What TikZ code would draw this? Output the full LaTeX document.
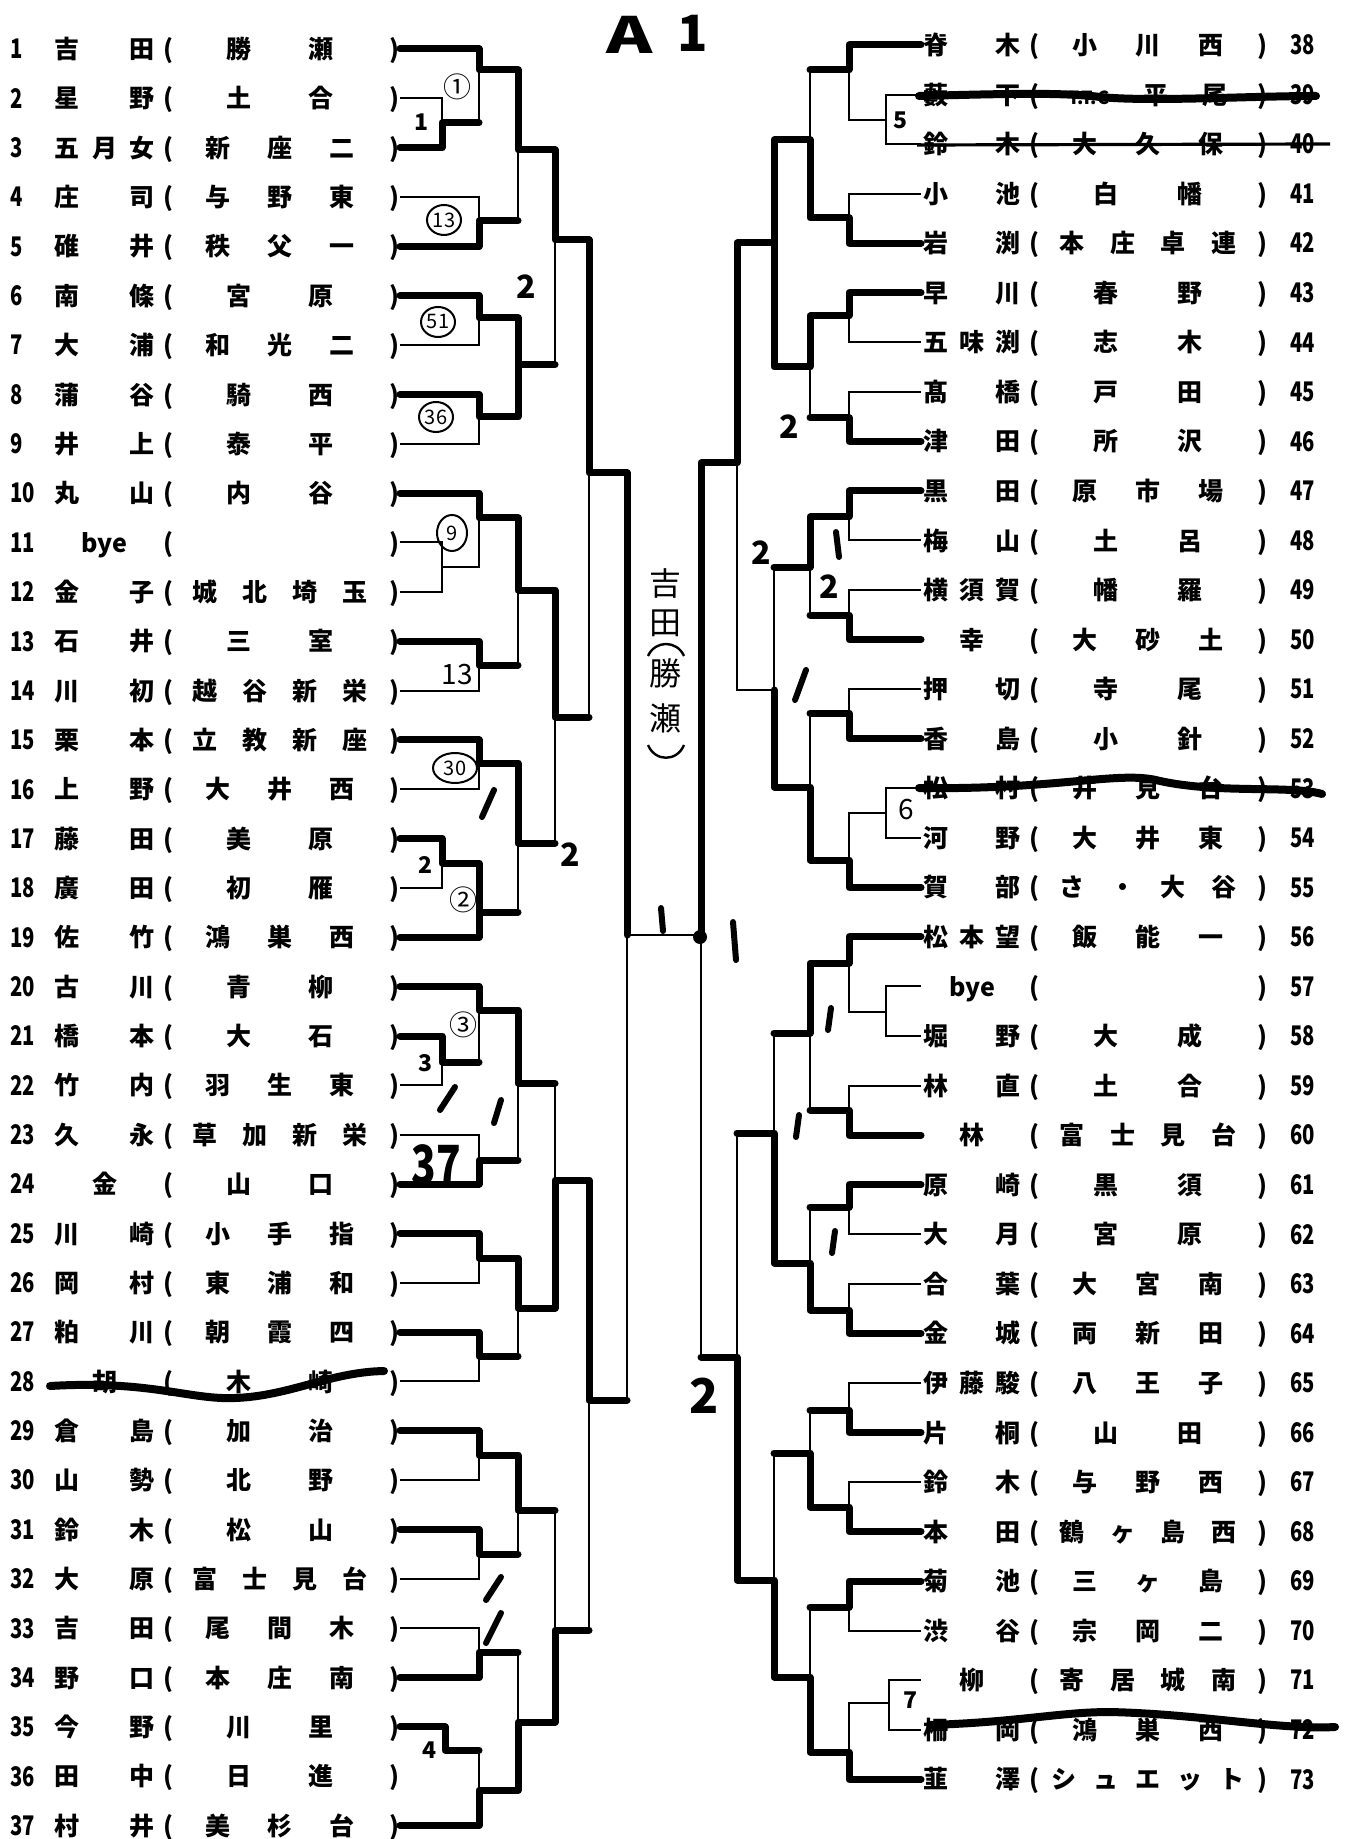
\documentclass[tikz,border=0pt]{standalone}
\usepackage{fontspec}
\usepackage{graphicx}
\setmainfont{Noto Sans CJK JP}
\newfontfamily\numf{Noto Sans CJK JP}[FakeStretch=0.75]
\usetikzlibrary{shapes.geometric}

% spread characters evenly in a box / justify a name
\def\spreadA#1#2{#1\hfil\ifx\relax#2\else\expandafter\spreadA\expandafter#2\fi}
\def\spreadB#1#2{#1\ifx\relax#2\else\hfil\expandafter\spreadB\expandafter#2\fi}
\newcommand\spreadall[1]{\hfil\expandafter\spreadA#1\relax}
\newcommand\spreadin[1]{\expandafter\spreadB#1\relax}
\newcommand\byetext{bye}
\newcommand\ttc{{\fontsize{9pt}{9pt}\selectfont T.T.C}}

\begin{document}
\begin{tikzpicture}[x=0.5pt,y=-0.5pt,
  rule/.style={line width=1pt},
  win/.style={line width=3.5pt,line cap=round,line join=round},
  strike/.style={line width=4pt,line cap=round},
  ent/.style={font=\bfseries\fontsize{12.5pt}{14pt}\selectfont,anchor=base,yshift=-4.8pt,inner sep=0pt},
  num/.style={font=\numf\bfseries\fontsize{13.5pt}{14pt}\selectfont,anchor=base west,yshift=-4.9pt,inner sep=0pt},
  prt/.style={font=\bfseries\fontsize{11.5pt}{12pt}\selectfont,inner sep=0pt},
  circ/.style={font=\fontsize{14pt}{14pt}\selectfont,inner sep=0pt},
  oval/.style={draw,ellipse,line width=1pt,inner sep=0pt,minimum width=17pt,minimum height=15pt,
    font=\fontsize{10pt}{10pt}\selectfont},
  hand/.style={font=\bfseries\fontsize{16pt}{16pt}\selectfont,inner sep=0pt},
  nick/.style={line width=3pt,line cap=round}]
\useasboundingbox (0,0) rectangle (1349,1839);

% title
\node[font=\bfseries\fontsize{25pt}{25pt}\selectfont] (ttlA) at (630,35) {\scalebox{1.4}[1]{A}};
\node[font=\bfseries\fontsize{25pt}{25pt}\selectfont] (ttl1) at (693,33) {1};

% left entries
\foreach \n/\nm/\sc [evaluate=\n as \yy using 49+(\n-1)*49.35] in {
  1/吉田/勝瀬, 2/星野/土合, 3/五月女/新座二, 4/庄司/与野東, 5/碓井/秩父一,
  6/南條/宮原, 7/大浦/和光二, 8/蒲谷/騎西, 9/井上/泰平, 10/丸山/内谷,
  11/{\hfil\byetext\hfil}/{\hfil}, 12/金子/城北埼玉, 13/石井/三室, 14/川初/越谷新栄,
  15/栗本/立教新座, 16/上野/大井西, 17/藤田/美原, 18/廣田/初雁, 19/佐竹/鴻巣西,
  20/古川/青柳, 21/橋本/大石, 22/竹内/羽生東, 23/久永/草加新栄, 24/{\hfil 金\hfil}/山口,
  25/川崎/小手指, 26/岡村/東浦和, 27/粕川/朝霞四, 28/{\hfil 胡\hfil}/木崎, 29/倉島/加治,
  30/山勢/北野, 31/鈴木/松山, 32/大原/富士見台, 33/吉田/尾間木, 34/野口/本庄南,
  35/今野/川里, 36/田中/日進, 37/村井/美杉台} {
  \node[num] (numL\n) at (10,\yy) {\n};
  \node[ent] (nmL\n) at (104.5,\yy) {\hbox to 50pt{\spreadin{\nm}}};
  \node[ent] (opL\n) at (168,\yy) {(};
  \node[ent] (scL\n) at (280,\yy) {\hbox to 112pt{\spreadall{\sc}}};
  \node[ent] (clL\n) at (394,\yy) {)};
  \coordinate (L\n) at (400,\yy);
}

% right entries
\foreach \n/\nm/\sc [evaluate=\n as \yy using 45+(\n-38)*49.55] in {
  38/脊木/小川西, 39/藪下/\ttc 平尾, 40/鈴木/大久保, 41/小池/白幡, 42/岩渕/本庄卓連,
  43/早川/春野, 44/五味渕/志木, 45/髙橋/戸田, 46/津田/所沢, 47/黒田/原市場,
  48/梅山/土呂, 49/横須賀/幡羅, 50/{\hfil 幸\hfil}/大砂土, 51/押切/寺尾, 52/香島/小針,
  53/松村/井見台, 54/河野/大井東, 55/賀部/さ・大谷, 56/松本望/飯能一, 57/{\hfil\byetext\hfil}/{\hfil},
  58/堀野/大成, 59/林直/土合, 60/{\hfil 林\hfil}/富士見台, 61/原崎/黒須, 62/大月/宮原,
  63/合葉/大宮南, 64/金城/両新田, 65/伊藤駿/八王子, 66/片桐/山田, 67/鈴木/与野西,
  68/本田/鶴ヶ島西, 69/菊池/三ヶ島, 70/渋谷/宗岡二, 71/{\hfil 柳\hfil}/寄居城南, 72/柵岡/鴻巣西,
  73/韮澤/シュエット} {
  \node[ent] (nmR\n) at (972,\yy) {\hbox to 48.5pt{\spreadin{\nm}}};
  \node[ent] (opR\n) at (1034,\yy) {(};
  \node[ent] (scR\n) at (1148,\yy) {\hbox to 114pt{\spreadall{\sc}}};
  \node[ent] (clR\n) at (1262,\yy) {)};
  \node[num] (numR\n) at (1290,\yy) {\n};
  \coordinate (R\n) at (921,\yy);
}

% match points
\foreach \m/\x/\y in {lp1/442/123, la1/479/70, la2/479/221, lb1/518/150, la3/479/318,
  la4/479/417, lb2/518/365, lc1/555/240, lp2/442/567, la5/479/518, la6/479/665,
  lb3/518/590, la7/479/763, lp3/442/863, la8/479/912, lb4/518/843, lc2/555/717,
  ld1/589/473, lp4/442/1062, la9/479/1010, la10/479/1160, lb5/518/1083, la11/479/1258,
  la12/479/1356, lb6/518/1308, lc3/555/1180, la13/479/1455, la14/479/1554, lb7/518/1510,
  la15/479/1652, lp5/445/1750, la16/479/1790, lb8/518/1722, lc4/555/1630, ld2/589/1400,
  lfin/627/935,
  rp1/886/120, ra1/849/70, ra2/849/218, rb1/810/140, ra3/849/316, ra4/849/418,
  rb2/810/367, rc1/774/243, ra5/849/517, ra6/849/615, rb3/810/567, ra7/849/713,
  rp2/886/813, ra8/849/860, rb4/810/787, rc2/774/690, rd1/737/463, rp3/886/1012,
  ra9/849/963, ra10/849/1110, rb5/810/1033, ra11/849/1207, ra12/849/1310, rb6/810/1263,
  rc3/774/1133, ra13/849/1410, ra14/849/1507, rb7/810/1453, ra15/849/1607, rp4/889/1703,
  ra16/849/1752, rb8/810/1677, rc4/774/1580, rd2/737/1357, rfin/701/935}
  \coordinate (\m) at (\x,\y);

% printed bracket
\foreach \a/\m/\b in {L2/lp1/L3, L1/la1/lp1, L4/la2/L5, la1/lb1/la2, L6/la3/L7, L8/la4/L9,
  la3/lb2/la4, lb1/lc1/lb2, L11/lp2/L12, L10/la5/lp2, L13/la6/L14, la5/lb3/la6,
  L15/la7/L16, L17/lp3/L18, lp3/la8/L19, la7/lb4/la8, lb3/lc2/lb4, lc1/ld1/lc2,
  L21/lp4/L22, L20/la9/lp4, L23/la10/L24, la9/lb5/la10, L25/la11/L26, L27/la12/L28,
  la11/lb6/la12, lb5/lc3/lb6, L29/la13/L30, L31/la14/L32, la13/lb7/la14, L33/la15/L34,
  lp5/la16/L37, la15/lb8/la16, lb7/lc4/lb8, lc3/ld2/lc4, ld1/lfin/ld2,
  R39/rp1/R40, R38/ra1/rp1, R41/ra2/R42, ra1/rb1/ra2, R43/ra3/R44, R45/ra4/R46,
  ra3/rb2/ra4, rb1/rc1/rb2, R47/ra5/R48, R49/ra6/R50, ra5/rb3/ra6, R51/ra7/R52,
  R53/rp2/R54, rp2/ra8/R55, ra7/rb4/ra8, rb3/rc2/rb4, rc1/rd1/rc2, R57/rp3/R58,
  R56/ra9/rp3, R59/ra10/R60, ra9/rb5/ra10, R61/ra11/R62, R63/ra12/R64, ra11/rb6/ra12,
  rb5/rc3/rb6, R65/ra13/R66, R67/ra14/R68, ra13/rb7/ra14, R69/ra15/R70, R71/rp4/R72,
  rp4/ra16/R73, ra15/rb8/ra16, rb7/rc4/rb8, rc3/rd2/rc4, rd1/rfin/rd2}
  \draw[rule] (\a) -| (\m) |- (\b);
\draw[rule] (L35) -| (lp5);
\draw[rule] (lfin) -- (rfin);

% winners
\draw[win] (L1) -| (la1) -| (lb1) -| (lc1) -| (ld1) -| (lfin);
\draw[win] (L3) -| (lp1) -- (lp1 -| la1);
\draw[win] (L5) -| (la2) -- (la2 -| lb1);
\draw[win] (L6) -| (la3) -| (lb2) -- (lb2 -| lc1);
\draw[win] (L8) -| (la4) -| (lb2);
\draw[win] (L10) -| (la5) -| (lb3) -| (lc2) -- (lc2 -| ld1);
\draw[win] (L13) -| (la6) -- (la6 -| lb3);
\draw[win] (L15) -| (la7) -| (lb4) -- (lb4 -| lc2);
\draw[win] (L17) -| (lp3) -| (la8) -- (la8 -| lb4);
\draw[win] (L19) -| (la8);
\draw[win] (L20) -| (la9) -| (lb5) -- (lb5 -| lc3);
\draw[win] (L21) -| (lp4) -- (lp4 -| la9);
\draw[win] (L24) -| (la10) -- (la10 -| lb5);
\draw[win] (L25) -| (la11) -| (lb6) -| (lc3) -| (ld2) -- (ld2 -| lfin);
\draw[win] (L27) -| (la12) -- (la12 -| lb6);
\draw[win] (L29) -| (la13) -| (lb7) -- (lb7 -| lc4);
\draw[win] (L31) -| (la14) -- (la14 -| lb7);
\draw[win] (L34) -| (la15) -- (la15 -| lb8);
\draw[win] (L35) -| (lp5) -- (lp5 -| la16);
\draw[win] (L37) -| (la16) -| (lb8) -| (lc4) -- (lc4 -| ld2);
\draw[win] (R38) -| (ra1) -- (ra1 -| rb1);
\draw[win] (R42) -| (ra2) -| (rb1) -| (rc1) -| (rd1) -| (rfin);
\draw[win] (R43) -| (ra3) -| (rb2) -| (rc1);
\draw[win] (R46) -| (ra4) -- (ra4 -| rb2);
\draw[win] (R47) -| (ra5) -| (rb3) -- (rb3 -| rc2);
\draw[win] (R50) -| (ra6) -- (ra6 -| rb3);
\draw[win] (R52) -| (ra7) -- (ra7 -| rb4);
\draw[win] (R55) -| (ra8) -| (rb4) -| (rc2);
\draw[win] (R56) -| (ra9) -| (rb5) -- (rb5 -| rc3);
\draw[win] (R60) -| (ra10) -- (ra10 -| rb5);
\draw[win] (R61) -| (ra11) -- (ra11 -| rb6);
\draw[win] (R64) -| (ra12) -| (rb6) -| (rc3) -- (rc3 -| rd2);
\draw[win] (R66) -| (ra13) -- (ra13 -| rb7);
\draw[win] (R68) -| (ra14) -| (rb7) -- (rb7 -| rc4);
\draw[win] (R69) -| (ra15) -- (ra15 -| rb8);
\draw[win] (R73) -| (ra16) -| (rb8) -| (rc4) -| (rd2) -- (rd2 -| rfin);

% struck-out entries
\draw[strike] (50,1386) .. controls (150,1380) and (190,1400) .. (235,1398) .. controls (290,1396) and (330,1372) .. (384,1371);
\draw[strike] (919,96) .. controls (1000,94) and (1060,92) .. (1100,97) .. controls (1150,102) and (1250,96) .. (1316,96);
\draw[line width=1.6pt] (917,145) -- (1330,144);
\draw[strike] (919,788) .. controls (1060,790) and (1120,770) .. (1160,781) .. controls (1220,794) and (1290,785) .. (1322,794);
\draw[strike] (930,1725) .. controls (1020,1722) and (1060,1712) .. (1110,1712) .. controls (1200,1714) and (1280,1730) .. (1335,1727);

% round numbers
\node[prt] (p1) at (421,122) {1};
\node[prt] (p2) at (425,865) {2};
\node[prt] (p3) at (425,1063) {3};
\node[prt] (p4) at (429,1750) {4};
\node[prt] (p5) at (900,120) {5};
\node[prt] (p7) at (910,1700) {7};
\node[circ] (q1) at (457,87) {①};
\node[circ] (q2) at (463,900) {②};
\node[circ] (q3) at (463,1025) {③};
\node[oval] (o13) at (444,220) {13};
\node[oval] (o51) at (438,322) {51};
\node[oval] (o36) at (436,417) {36};
\node[oval,minimum width=15pt,minimum height=18pt] (o9) at (452,533) {9};
\node[oval,minimum width=22pt] (o30) at (455,768) {30};
\node[font=\fontsize{14pt}{14pt}\selectfont,inner sep=0pt] (h13) at (457,675) {13};
\node[hand,font=\numf\bfseries\fontsize{27pt}{27pt}\selectfont] (h37) at (436,1165) {37};
\node[hand,font=\fontsize{14pt}{14pt}\selectfont] (h6) at (906,810) {6};

% hand marks
\foreach \x/\y [count=\k] in {526/287, 570/855, 789/427, 761/553, 829/587}
  \node[hand] (two\k) at (\x,\y) {2};
\node[hand,font=\bfseries\fontsize{24pt}{24pt}\selectfont] (twobig) at (704,1396) {2};
\foreach \a/\b/\c/\d in {482/817/494/790, 440/1110/455/1087, 494/1123/501/1100,
  486/1600/501/1577, 486/1643/501/1613, 836/532/839/557, 795/700/806/670,
  828/1030/831/1008, 796/1137/799/1115, 832/1253/835/1231, 661/908/663/931, 733/922/736/960}
  \draw[nick] (\a,\b) -- (\c,\d);
\fill (700,937) circle (7);

% winner written vertically
\foreach \c/\yy [count=\k] in {吉/583, 田/623, 勝/673, 瀬/718}
  \node[font=\fontsize{16pt}{16pt}\selectfont,inner sep=0pt] (vt\k) at (665,\yy) {\c};
\draw[line width=1.2pt] (648,656) .. controls (655,640) and (677,640) .. (684,656);
\draw[line width=1.2pt] (648,745) .. controls (655,762) and (677,762) .. (684,745);
\end{tikzpicture}
\end{document}
